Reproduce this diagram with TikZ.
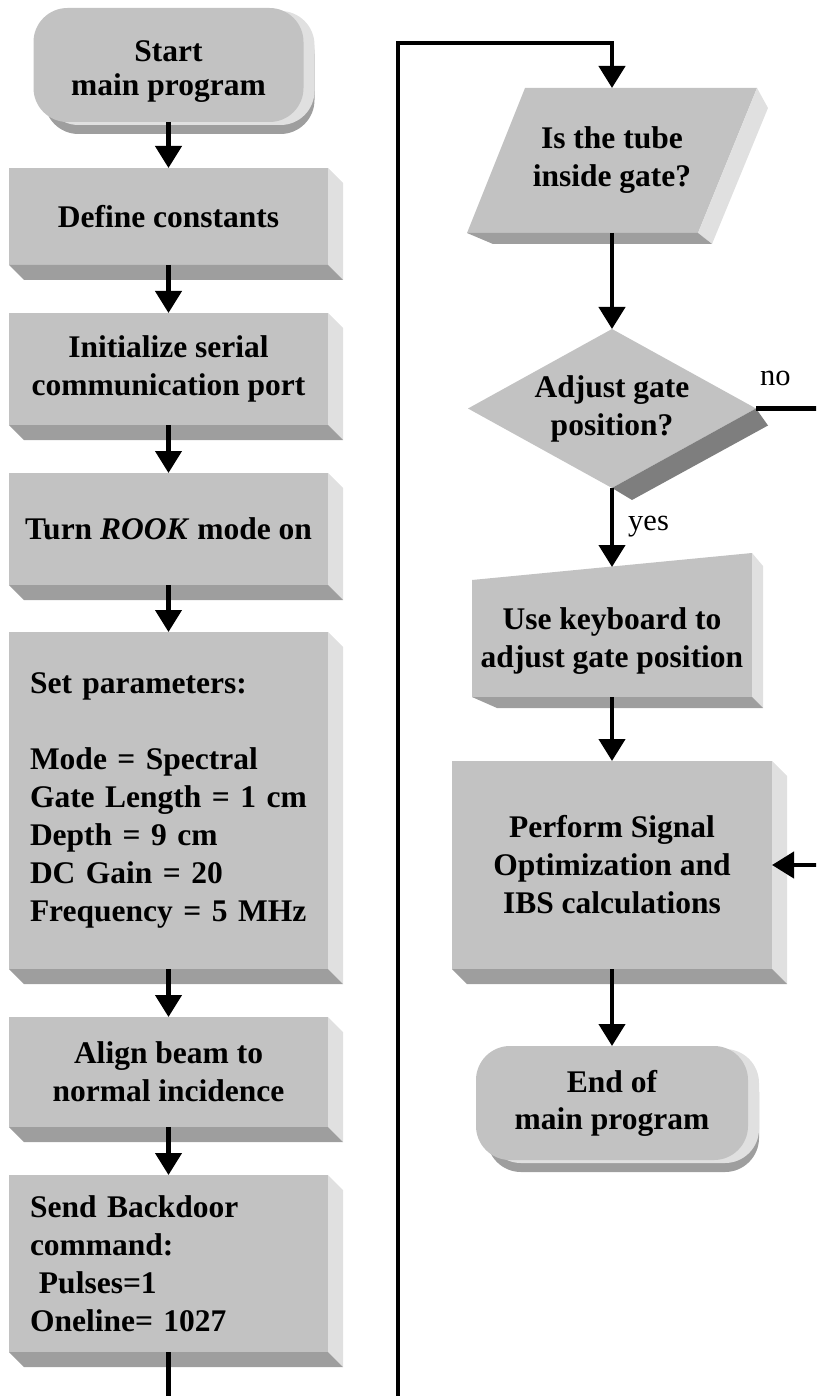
\documentclass[tikz,border=0pt]{standalone}
\usepackage{fontspec}
\setmainfont{Liberation Serif}
\usetikzlibrary{arrows.meta,shapes.geometric,shadows}

\definecolor{facegray}{HTML}{C2C2C2}
\definecolor{sidegray}{HTML}{E0E0E0}
\definecolor{botgray}{HTML}{9E9E9E}
\definecolor{edgegray}{HTML}{7E7E7E}

% right and bottom faces of a raised box
\newcommand{\boxbevel}[1]{%
  \fill[sidegray] (#1.north east) -- ++(15,15)
    -- ([shift={(15,15)}]#1.south east) -- (#1.south east) -- cycle;
  \fill[botgray] (#1.south west) -- ++(15,15)
    -- ([shift={(15,15)}]#1.south east) -- (#1.south east) -- cycle;}

\tikzset{
  flow/.style={line width=4.2pt,-{Triangle[width=26pt,length=22pt]}},
  procbox/.style={rectangle,fill=facegray,minimum width=319pt,
    inner sep=0pt,outer sep=0pt,align=center},
  termbox/.style={rectangle,rounded corners=34pt,fill=facegray,
    minimum width=270pt,minimum height=114pt,inner sep=0pt,outer sep=0pt,
    align=center,
    general shadow={shadow xshift=11pt,shadow yshift=-12pt,fill=botgray},
    general shadow={shadow xshift=11pt,shadow yshift=-3pt,fill=sidegray}},
  answer/.style={font=\fontsize{30.5}{36}\selectfont\mdseries,
    inner sep=0pt,anchor=base west}
}

\begin{document}
\begin{tikzpicture}[x=1pt,y=-1pt,
    every node/.style={font=\fontsize{31.5}{38}\selectfont\bfseries}]
    \useasboundingbox (0,0) rectangle (816,1396);
    \clip (0,0) rectangle (816,1396);

    % left column
    \node[termbox,text height=69pt,text depth=7pt] (start) at (168.5,65)
        {Start\\[-4pt]main program};
    \node[procbox,minimum height=97pt] (def) at (168.5,216.5) {Define constants};
    \node[procbox,minimum height=112pt] (ser) at (168.5,369)
        {Initialize serial\\communication port};
    \node[procbox,minimum height=112pt] (rook) at (168.5,529)
        {Turn \textit{ROOK} mode on};
    \node[procbox,minimum height=337pt,align=left,text width=277pt] (par)
        at (168.5,800.5)
        {Set parameters:\\[38pt]Mode = Spectral\\Gate Length = 1 cm\\
         Depth = 9 cm\\DC Gain = 20\\Frequency = 5 MHz};
    \node[procbox,minimum height=110pt] (aln) at (168.5,1072)
        {Align beam to\\normal incidence};
    \node[procbox,minimum height=177pt,align=left,text width=277pt] (bkd)
        at (168.5,1263.5)
        {Send Backdoor\\command:\\\hspace*{9pt}Pulses=1\\Oneline= 1027};
    \boxbevel{def}
    \boxbevel{ser}
    \boxbevel{rook}
    \boxbevel{par}
    \boxbevel{aln}
    \boxbevel{bkd}

    % right column
    \fill[facegray] (525,88) -- (757,88) -- (698,233) -- (467,233) -- cycle;
    \fill[sidegray] (757,88) -- (768,108) -- (712,244) -- (698,233) -- cycle;
    \fill[botgray] (467,233) -- (493,244) -- (712,244) -- (698,233) -- cycle;
    \node[minimum height=145pt,inner sep=0pt,outer sep=0pt,align=center] (tube)
        at (612,160.5) {Is the tube\\inside gate?};

    \node[diamond,aspect=1.8,fill=facegray,minimum width=288pt,
        minimum height=159pt,inner sep=0pt,outer sep=0pt,align=center] (ask)
        at (612,408.5) {Adjust gate\\position?};
    \fill[edgegray] (ask.east) -- ++(12,17)
        -- ([shift={(20,12)}]ask.south) -- (ask.south) -- cycle;

    \fill[facegray] (472,580) -- (752,553) -- (752,697) -- (472,697) -- cycle;
    \fill[sidegray] (752,553) -- (763,566) -- (763,708) -- (752,697) -- cycle;
    \fill[botgray] (472,697) -- (497,708) -- (763,708) -- (752,697) -- cycle;
    \node[minimum height=130pt,inner sep=0pt,outer sep=0pt,align=center,
        text height=77pt,text depth=7pt] (kbd) at (612,632)
        {Use keyboard to\\adjust gate position};

    \node[procbox,minimum width=320pt,minimum height=208pt] (perf) at (612,865)
        {Perform Signal\\Optimization and\\IBS calculations};
    \boxbevel{perf}
    \node[termbox,minimum width=272pt] (end) at (612,1103)
        {End of\\[-1pt]main program};

    \node[answer] (no) at (760,385) {no};
    \node[answer] (yes) at (628,530) {yes};

    % connectors
    \coordinate (loopb) at (398,1420);
    \coordinate (loopt) at (398,43);
    \coordinate (noright) at (830,408.5);
    \draw[flow] (start.south) -- (def.north);
    \draw[flow] (def.south) -- (ser.north);
    \draw[flow] (ser.south) -- (rook.north);
    \draw[flow] (rook.south) -- (par.north);
    \draw[flow] (par.south) -- (aln.north);
    \draw[flow] (aln.south) -- (bkd.north);
    \draw[flow] (bkd.south) |- (loopb) -- (loopt) -| (tube.north);
    \draw[flow] (tube.south) -- (ask.north);
    \draw[flow] (ask.south) -- (kbd.north);
    \draw[flow] (kbd.south) -- (perf.north);
    \draw[flow] (perf.south) -- (end.north);
    \draw[flow] (ask.east) -- (noright) |- (perf.east);
\end{tikzpicture}
\end{document}
